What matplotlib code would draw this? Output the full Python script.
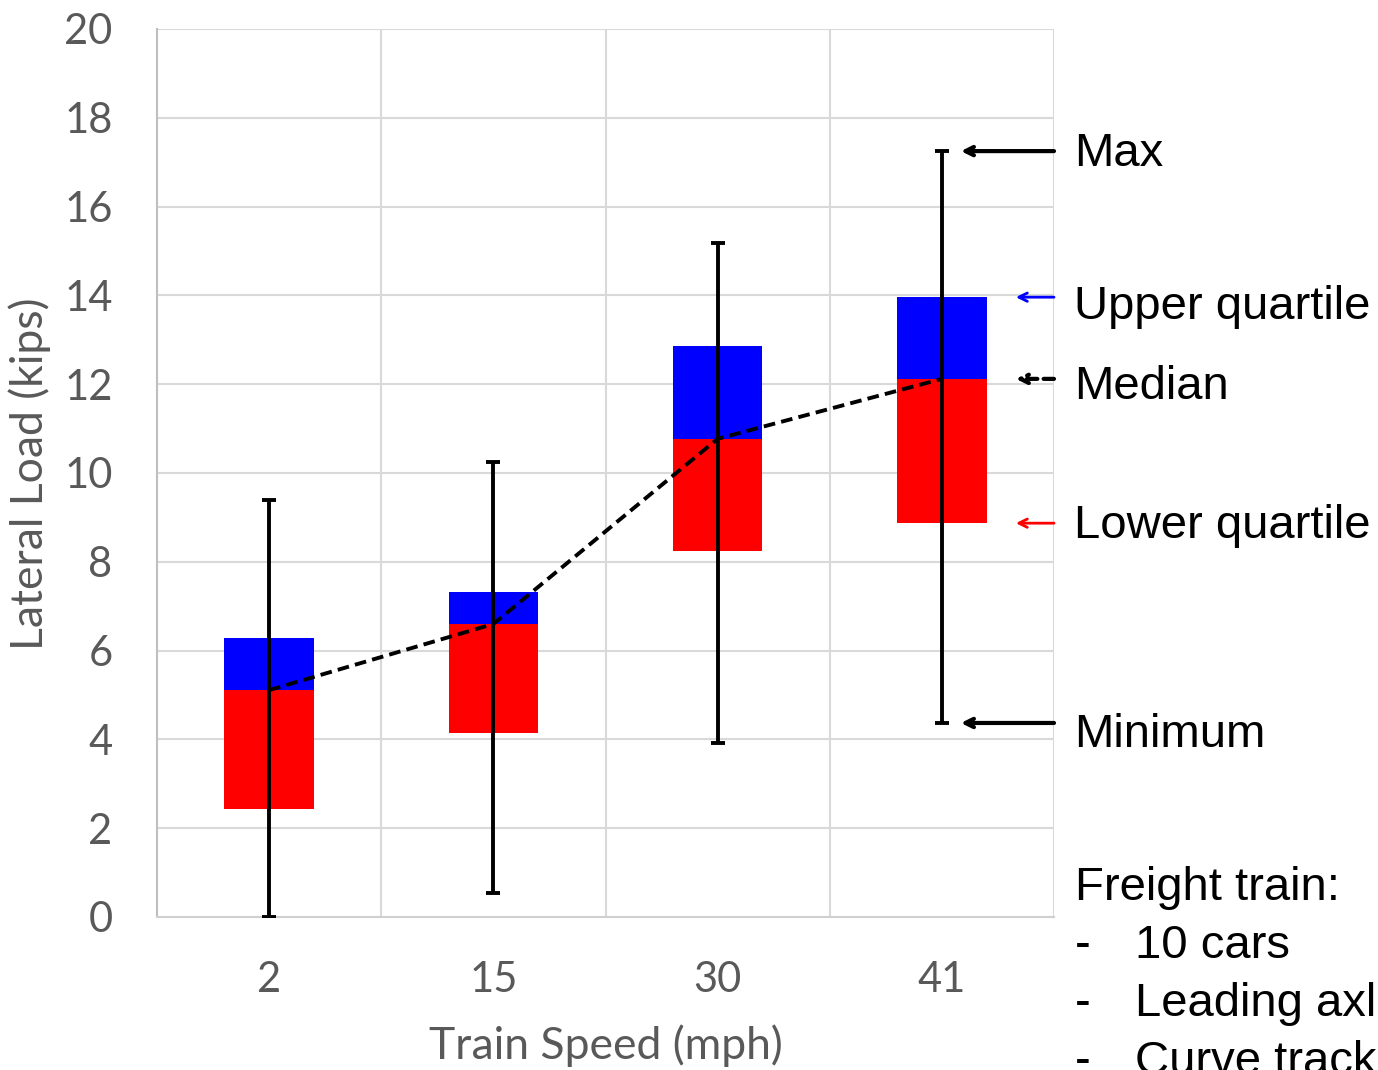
import matplotlib
matplotlib.use("Agg")
import matplotlib.pyplot as plt
import numpy as np

# ---- data ----
speeds = ["2", "15", "30", "41"]
minimum = [0.0, 0.54, 3.92, 4.37]
lower_q = [2.43, 4.14, 8.24, 8.87]
median = [5.11, 6.60, 10.77, 12.12]
upper_q = [6.28, 7.32, 12.86, 13.96]
maximum = [9.39, 10.25, 15.18, 17.25]
y_ticks = [0, 2, 4, 6, 8, 10, 12, 14, 16, 18, 20]
notes = ["10 cars", "Leading axl", "Curve track"]

W, H = 1378, 1070
fig = plt.figure(figsize=(W / 100, H / 100), dpi=100)
ax = fig.add_axes([157 / W, 1 - 917 / H, (1054 - 157) / W, (917 - 29) / H])

x = np.arange(len(speeds))
lo = np.array(lower_q)
md = np.array(median)
up = np.array(upper_q)

ax.bar(x, md - lo, bottom=lo, width=0.4, color="#ff0000", zorder=2)
ax.bar(x, up - md, bottom=md, width=0.4, color="#0000ff", zorder=2)

err_lo = md - np.array(minimum)
err_hi = np.array(maximum) - md
ax.errorbar(x, md, yerr=[err_lo, err_hi], fmt="none", ecolor="black",
            elinewidth=2.8, capsize=5, capthick=2.8, zorder=3)
ax.plot(x, md, color="black", lw=2.8, ls=(0, (3, 1.6)), zorder=4)

ax.set_xlim(-0.5, 3.5)
ax.set_ylim(0, 20)
ax.set_yticks(y_ticks)
ax.set_xticks(x)
ax.set_xticklabels(speeds)

grid_c = "#d9d9d9"
for yv in y_ticks[1:]:
    ax.axhline(yv, color=grid_c, lw=1.5, zorder=0)
for xv in np.arange(-0.5, 3.6, 1.0)[1:]:
    ax.axvline(xv, color=grid_c, lw=1.5, zorder=0)
for s in ["top", "right"]:
    ax.spines[s].set_visible(False)
ax.spines["left"].set_color("#bfbfbf")
ax.spines["bottom"].set_color("#d0d0d0")
ax.spines["left"].set_linewidth(1.5)
ax.spines["bottom"].set_linewidth(1.5)

tick_font = "Lato"
ax.tick_params(axis="both", length=0, labelsize=30, labelcolor="#595959")
ax.tick_params(axis="y", pad=32)
ax.tick_params(axis="x", pad=32)
for lab in ax.get_xticklabels() + ax.get_yticklabels():
    lab.set_fontfamily(tick_font)

ax.set_xlabel("Train Speed (mph)", fontsize=32, color="#595959", family=tick_font, va="center")
ax.xaxis.set_label_coords(0.5, (917 - 1046) / 888)
ax.set_ylabel("Lateral Load (kips)", fontsize=32, color="#595959", family=tick_font, va="center")
ax.yaxis.set_label_coords((30 - 157) / 897, (917 - 474) / 888)

# annotations pointing at the 41 mph box
ann_font = "Liberation Sans"
ann = [
    ("Max", maximum[3], 3.085, "black", "-", 1.5),
    ("Upper quartile", upper_q[3], 3.33, "#0000ff", "-", -3.5),
    ("Median", median[3], 3.33, "black", (0, (2.5, 1.5)), -2),
    ("Lower quartile", lower_q[3], 3.33, "#ff0000", "-", 1.5),
    ("Minimum", minimum[3], 3.085, "black", "-", -5),
]
for label, yv, xhead, col, ls, dy in ann:
    lw = 3 if col == "black" else 2
    ax.annotate("", xy=(xhead, yv), xytext=(3.5, yv),
                arrowprops=dict(arrowstyle="->,head_length=0.6,head_width=0.3",
                                color=col, lw=lw, linestyle=ls, shrinkA=0, shrinkB=0),
                annotation_clip=False, zorder=5)
    ax.annotate(label, xy=(3.59, yv), xytext=(0, dy), textcoords="offset points",
                fontsize=34, family=ann_font, color="black",
                va="center_baseline", ha="left", annotation_clip=False)

fig.text(1075 / W, 1 - 883 / H, "Freight train:", fontsize=34, family=ann_font,
         va="center_baseline", ha="left")
for i, n in enumerate(notes):
    yy = 1 - (941 + 58 * i) / H
    fig.text(1075 / W, yy, "-", fontsize=34, family=ann_font, va="center_baseline", ha="left")
    fig.text(1135 / W, yy, n, fontsize=34, family=ann_font, va="center_baseline", ha="left")

fig.savefig("out.png", dpi=100)
